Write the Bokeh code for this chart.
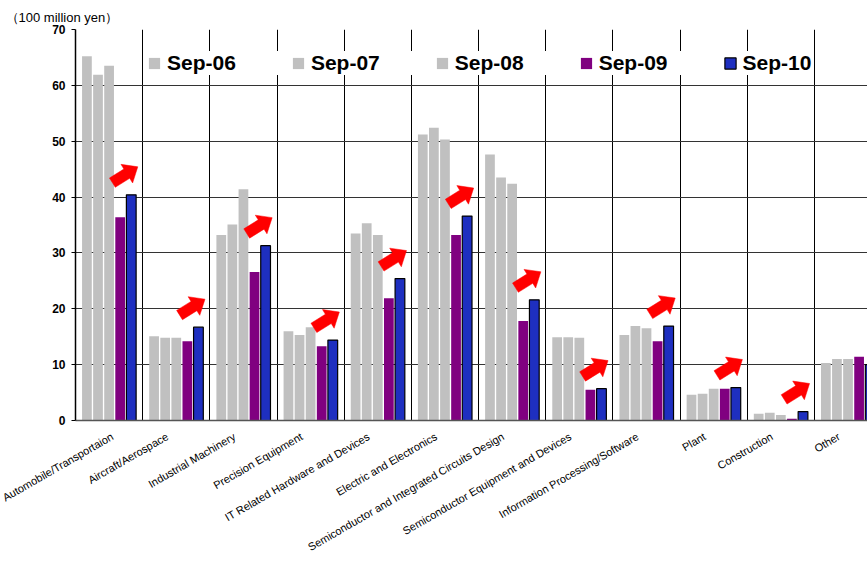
import numpy as np
from bokeh.plotting import figure
from bokeh.models import ColumnDataSource, Range1d, FixedTicker, Legend, LegendItem
from bokeh.embed import file_html
from bokeh.resources import INLINE

# Orders received by industry (100 million yen), September of each year
categories = [
    "Automobile/Transportaion",
    "Aircraft/Aerospace",
    "Industrial Machinery",
    "Precision Equipment",
    "IT Related Hardware and Devices",
    "Electric and Electronics",
    "Semiconductor and Integrated Circuits Design",
    "Semiconductor Equipment and Devices",
    "Information Processing/Software",
    "Plant",
    "Construction",
    "Other",
]
series_names = ["Sep-06", "Sep-07", "Sep-08", "Sep-09", "Sep-10"]
sep06 = [65.2, 15.1, 33.2, 16.0, 33.5, 51.2, 47.6, 14.9, 15.3, 4.6, 1.2, 10.3]
sep07 = [61.9, 14.8, 35.1, 15.3, 35.3, 52.4, 43.5, 14.9, 16.9, 4.8, 1.4, 11.0]
sep08 = [63.5, 14.8, 41.4, 16.7, 33.2, 50.3, 42.4, 14.8, 16.5, 5.7, 1.0, 11.0]
sep09 = [36.4, 14.2, 26.6, 13.3, 21.9, 33.2, 17.8, 5.5, 14.2, 5.7, 0.3, 11.4]
sep10 = [40.4, 16.7, 31.3, 14.4, 25.4, 36.6, 21.6, 5.7, 16.9, 5.9, 1.6, 10.0]
y_ticks = [0, 10, 20, 30, 40, 50, 60, 70]

series = [sep06, sep07, sep08, sep09, sep10]
fills = ["#C0C0C0", "#C0C0C0", "#C0C0C0", "#800080", "#1E2FC0"]
outlines = [None, None, None, None, "black"]

# layout of the plotting frame
W, H = 867, 561
LEFT, TOP, BOTTOM = 75, 29, 140
FRAME_W, FRAME_H = W - LEFT, H - TOP - BOTTOM
X_END = 11.79
Y_END = 70

p = figure(
    width=W, height=H,
    x_range=Range1d(0, X_END), y_range=Range1d(0, Y_END),
    output_backend="svg", toolbar_location=None,
    min_border_left=LEFT, min_border_right=0,
    min_border_top=TOP, min_border_bottom=BOTTOM,
    background_fill_color="white", border_fill_color="white",
)
p.outline_line_color = None

centers = np.arange(len(categories)) + 0.5
pitch, bar_w = 0.165, 0.145
px_x = FRAME_W / X_END
px_y = FRAME_H / Y_END

renderers = []
for k, (vals, fc, lc) in enumerate(zip(series, fills, outlines)):
    src = ColumnDataSource(dict(x=centers + (k - 2) * pitch, top=vals))
    r = p.vbar(x="x", top="top", width=bar_w, bottom=0, source=src,
               fill_color=fc, line_color=lc, line_width=1.2 if lc else 0)
    renderers.append(r)

# red block arrows marking a year-on-year rise (Sep-09 -> Sep-10)
L, hl, sw, hw = 30.0, 13.0, 11.0, 22.0
shape = np.array([(0, -sw / 2), (L - hl, -sw / 2), (L - hl, -hw / 2), (L, 0),
                  (L - hl, hw / 2), (L - hl, sw / 2), (0, sw / 2)]) - (L / 2, 0)
th = np.radians(32)
rx = shape[:, 0] * np.cos(th) - shape[:, 1] * np.sin(th)
ry = shape[:, 0] * np.sin(th) + shape[:, 1] * np.cos(th)
axs, ays = [], []
for c, a, b in zip(centers, sep09, sep10):
    if b > a:
        cx = c + 16 / px_x
        cy = b + 3.6
        axs.append(list(cx + rx / px_x))
        ays.append(list(cy + ry / px_y))
p.patches(axs, ays, fill_color="#FF0000", line_color="#FF0000", line_width=0.5)

# axes; category names sit just left of each group's centre
label_pos = centers - 9 / px_x
p.xaxis.ticker = FixedTicker(ticks=list(label_pos))
p.xaxis.major_label_overrides = {float(c): n for c, n in zip(label_pos, categories)}
p.xaxis.major_label_orientation = np.pi / 6
p.xaxis.major_tick_line_color = None
p.xaxis.minor_tick_line_color = None
p.xaxis.major_label_standoff = 9
p.xaxis.major_label_text_font = "Liberation Sans"
p.xaxis.major_label_text_font_size = "11px"
p.xaxis.major_label_text_color = "black"
p.xaxis.axis_line_color = "#555555"
p.xaxis.axis_line_width = 1.5

p.yaxis.ticker = FixedTicker(ticks=y_ticks)
p.yaxis.minor_tick_line_color = None
p.yaxis.major_tick_in = 0
p.yaxis.major_tick_out = 4
p.yaxis.major_tick_line_color = "black"
p.yaxis.major_label_standoff = 6
p.yaxis.major_label_text_font = "Liberation Sans"
p.yaxis.major_label_text_font_style = "bold"
p.yaxis.major_label_text_font_size = "12px"
p.yaxis.major_label_text_color = "black"
p.yaxis.axis_line_color = "black"
p.yaxis.axis_line_width = 1.5

# grid: horizontal value lines and vertical category separators
p.ygrid.grid_line_color = "#333333"
p.ygrid.grid_line_width = 1
p.xgrid.ticker = FixedTicker(ticks=list(range(1, len(categories))))
p.xgrid.grid_line_color = "black"
p.xgrid.grid_line_width = 1

# unit caption
p.title.text = "（100 million yen）"
p.title.align = "left"
p.title.offset = -70
p.title.standoff = 10
p.title.text_font = "Liberation Sans"
p.title.text_font_size = "13px"
p.title.text_font_style = "normal"
p.title.text_color = "black"

legend = Legend(
    items=[LegendItem(label=n, renderers=[r]) for n, r in zip(series_names, renderers)],
    orientation="horizontal",
    location=(72, 345),
    glyph_width=14, glyph_height=14,
    label_standoff=6, spacing=55,
    padding=5, margin=0,
    border_line_color=None,
    background_fill_color="white", background_fill_alpha=1,
    label_text_font="Liberation Sans",
    label_text_font_style="bold",
    label_text_font_size="21px",
    label_text_color="black",
)
p.add_layout(legend)

open("out.html", "w").write(file_html(p, INLINE))
